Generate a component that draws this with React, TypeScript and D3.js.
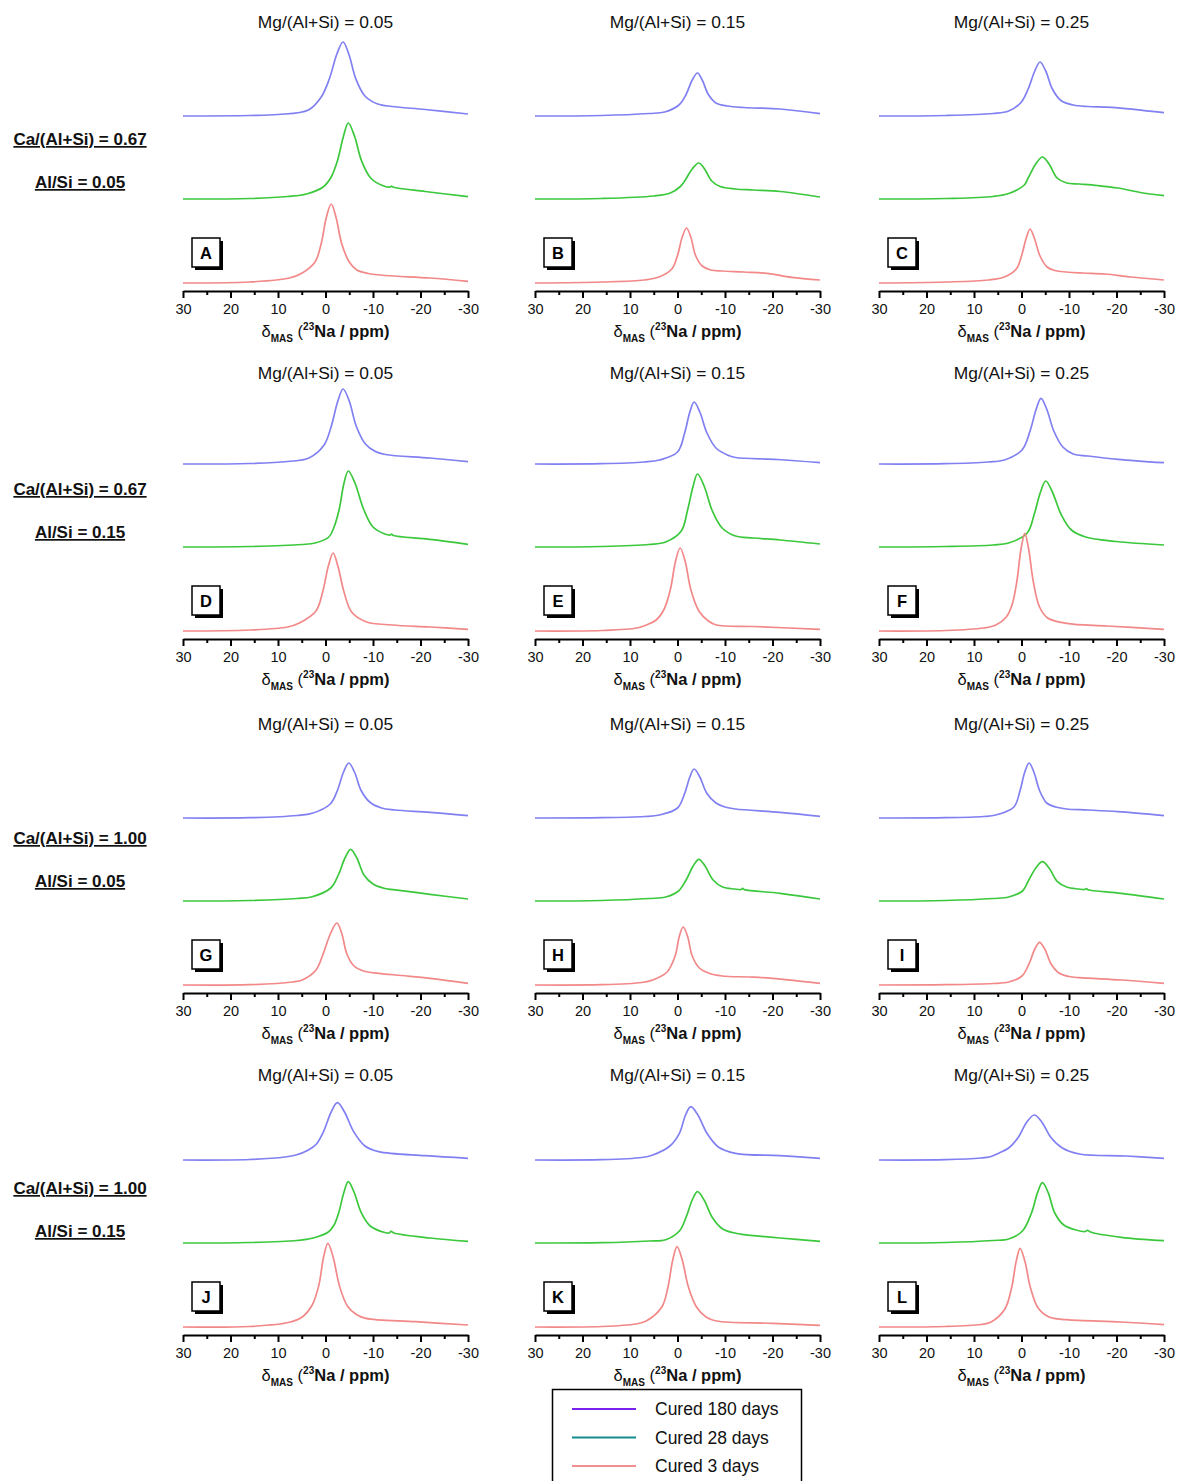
import React, { useEffect, useRef } from "react";
import * as d3 from "d3";

type Pt = [number, number];

// labels
const MG_TITLES = ["Mg/(Al+Si) = 0.05", "Mg/(Al+Si) = 0.15", "Mg/(Al+Si) = 0.25"];
const CA_LABELS = ["Ca/(Al+Si) = 0.67", "Ca/(Al+Si) = 0.67", "Ca/(Al+Si) = 1.00", "Ca/(Al+Si) = 1.00"];
const ALSI_LABELS = ["Al/Si = 0.05", "Al/Si = 0.15", "Al/Si = 0.05", "Al/Si = 0.15"];
const LETTERS = ["A", "B", "C", "D", "E", "F", "G", "H", "I", "J", "K", "L"];
const SERIES = ["Cured 180 days", "Cured 28 days", "Cured 3 days"];
const X_TICKS = [30, 20, 10, 0, -10, -20, -30];
const X_MINOR = [25, 15, 5, -5, -15, -25];

// spectra: [ppm, intensity]
const A_180: Pt[] = [[30,0],[16,0.5],[10,1.5],[3.6,6],[0.9,19],[-0.8,37],[-2.4,62],[-3.7,74],[-4.9,62],[-6.4,37],[-8.3,20],[-11,12],[-14,9.5],[-21,6.5],[-30,2]];
const A_28: Pt[] = [[30,0],[16,0.5],[8,2.5],[4,5],[0.5,12],[-1.2,22],[-2.5,38],[-3.8,63],[-4.8,76],[-6.1,63],[-7.6,38],[-9.5,21],[-12,13.5],[-13.6,12],[-13.9,12.8],[-14.3,11.8],[-21,7.5],[-30,2.3]];
const A_3: Pt[] = [[30,0],[16,1],[7.6,5],[4.9,10],[2.2,21],[0.9,39.5],[-0.2,66],[-1.2,79],[-2.2,66],[-3.4,39.5],[-5,21],[-6.6,13],[-9,9.5],[-12.6,7.5],[-22,5],[-30,1.7]];

const B_180: Pt[] = [[30,0],[16,0.5],[6,2.5],[2.7,4],[-0.3,11],[-1.8,21.5],[-3.1,36],[-4.2,43],[-5.2,36],[-6.5,21.5],[-8.1,13],[-10.5,10],[-14,8.5],[-21.6,7],[-30,2.3]];
const B_28: Pt[] = [[30,0],[16,0.5],[5,3],[1.5,6],[-0.6,12.5],[-1.5,18],[-3.1,30],[-4.5,36],[-5.7,30],[-7.2,18],[-9,12.5],[-12.2,10],[-16,9],[-21.6,7.5],[-30,2]];
const B_3: Pt[] = [[30,0],[16,1],[7,3],[3.9,6],[1.2,14],[0,27.5],[-1,46],[-1.9,55],[-2.8,46],[-3.8,27.5],[-5.2,17],[-7,13],[-9.4,12],[-14,11],[-18.8,9.7],[-24,5.7],[-30,3]];

const C_180: Pt[] = [[30,0],[16,0.5],[6,2.5],[2.7,5],[0.1,13.5],[-1.4,27],[-2.8,45],[-3.9,54],[-5.1,45],[-6.5,27],[-8.3,15.5],[-10.9,11],[-14,9.5],[-19,8.7],[-30,3.3]];
const C_28: Pt[] = [[30,0],[16,0.5],[6,2.5],[2.7,5.5],[-0.6,14],[-1.4,21],[-3,35],[-4.4,42],[-5.8,35],[-7.5,21],[-9.5,16],[-12.2,15],[-16,13.5],[-20.3,11],[-25,6.5],[-30,3.3]];
const C_3: Pt[] = [[30,0],[16,1],[7,3],[3.6,6],[1.1,14],[0,27],[-1,45],[-1.8,54],[-2.7,45],[-3.9,27],[-5.4,16],[-7,12.5],[-9.5,11],[-13,10],[-17.6,9],[-23,6],[-30,3]];

const D_180: Pt[] = [[30,0],[16,0.5],[8,2.5],[3.5,6],[0.3,19],[-1.2,37.5],[-2.6,63],[-3.7,75],[-5,63],[-6.5,37.5],[-8.4,20],[-10.5,12.5],[-12.6,9.5],[-22,6],[-30,2.3]];
const D_28: Pt[] = [[30,0],[16,0.5],[5,2.5],[2.2,4],[-0.7,10],[-1.8,20],[-2.9,38],[-3.9,64],[-4.8,76],[-6.2,64],[-8,38],[-10,20],[-12.5,13],[-13.6,12],[-13.9,12.8],[-14.3,11.5],[-22,7.7],[-30,2.7]];
const D_3: Pt[] = [[30,0],[16,1],[8,4],[5.5,8],[2,20],[0.6,39],[-0.6,65],[-1.6,78],[-2.6,65],[-3.9,39],[-5.5,19],[-8.5,9.3],[-14,6],[-22,4],[-30,1.7]];

const E_180: Pt[] = [[30,0],[16,0.3],[7,2],[3.8,4],[0,12],[-1.5,31],[-2.6,52],[-3.5,62],[-4.7,52],[-6.2,31],[-8.1,16],[-10.5,9],[-12.2,6.5],[-21,4.5],[-30,1.3]];
const E_28: Pt[] = [[30,0],[16,0.5],[6,2.5],[2.5,5],[-0.8,16],[-2.1,36.5],[-3.3,61],[-4.2,73],[-5.6,61],[-7.3,36.5],[-9.4,19],[-12.2,11],[-16,9],[-21.6,7],[-30,3]];
const E_3: Pt[] = [[30,0],[16,0.5],[8.5,3],[6.6,6],[4.5,11],[2.8,22],[1.5,41.5],[0.4,70],[-0.55,83],[-1.6,70],[-2.8,41.5],[-4.5,20],[-6.5,10],[-8.2,6],[-16,4.5],[-30,1.7]];

const F_180: Pt[] = [[30,0],[16,0.3],[7,2],[3.6,4],[-0.1,14],[-1.8,33],[-3.1,55],[-4.1,65.7],[-5.3,55],[-6.8,33],[-8.7,17],[-10.9,10],[-14,8],[-20.3,4.7],[-30,1.3]];
const F_28: Pt[] = [[30,0],[16,0.5],[6,2],[2.7,4],[-1.2,14],[-2.7,33],[-4,55],[-5.1,66],[-6.5,55],[-8.3,33],[-10.5,17],[-13.5,10],[-20,5.5],[-30,2]];
const F_3: Pt[] = [[30,0],[16,0.5],[8,3],[5.4,6],[3.2,14],[2,26],[1,49],[0.1,82],[-0.7,97.7],[-1.5,82],[-2.5,49],[-3.8,24],[-5.5,13],[-9.5,7.7],[-18,5],[-30,1.7]];

const G_180: Pt[] = [[30,0],[16,0.3],[6,2.5],[2.8,4.7],[-1,14],[-2.5,27.5],[-3.8,46],[-4.9,55],[-6.1,46],[-7.5,27.5],[-9.3,16],[-11.8,10],[-14.6,8],[-22,5.7],[-30,2.3]];
const G_28: Pt[] = [[30,0],[16,0.5],[6,2.5],[2.8,4.3],[-1.1,13],[-2.7,26],[-4.1,43],[-5.3,51.7],[-6.6,43],[-8.1,26],[-10,17],[-12.5,12.5],[-13.8,11.7],[-22,6.7],[-30,2]];
const G_3: Pt[] = [[30,0],[16,0.3],[7,3],[4.9,5],[2,15],[0.5,31],[-1.1,52],[-2.4,62],[-3.4,52],[-4.5,31],[-6,19],[-8,14],[-11.2,11.7],[-16,9.5],[-22,6.7],[-30,1.7]];

const H_180: Pt[] = [[30,0],[16,0.3],[7,1.5],[3.8,3],[0,10],[-1.5,24.5],[-2.6,41],[-3.5,49],[-4.7,41],[-6.2,24.5],[-8.1,15],[-10,11],[-12.2,9],[-21.6,5.7],[-30,1.7]];
const H_28: Pt[] = [[30,0],[16,0.5],[6,2.5],[2.5,4],[-0.2,10],[-1.8,21],[-3.3,35],[-4.5,41.7],[-5.8,35],[-7.5,21],[-9.5,14],[-12,12],[-13.4,11.5],[-13.7,12.6],[-14.1,11.4],[-21.6,7.7],[-30,2]];
const H_3: Pt[] = [[30,0],[16,0.3],[7.5,2.5],[5.2,5],[2.2,13],[0.5,29],[-0.4,49],[-1.2,58],[-2.1,49],[-3.1,29],[-4.6,17],[-6.5,12],[-9.4,9],[-15,8],[-20,6.7],[-30,1.7]];

const I_180: Pt[] = [[30,0],[16,0.3],[8,1.5],[5.4,3],[1.6,11],[0.3,27.5],[-0.7,46],[-1.6,55],[-2.6,46],[-3.8,27.5],[-5.3,15],[-7.2,11],[-9.5,9],[-14,8],[-20.3,6.3],[-30,2.3]];
const I_28: Pt[] = [[30,0],[16,0.5],[6,2.5],[2.7,4],[-0.2,10],[-1.4,19.7],[-3,33],[-4.4,39.3],[-5.8,33],[-7.5,19.7],[-9.5,14],[-12,12],[-13.3,11.5],[-13.6,12.4],[-14,11.3],[-21,7.7],[-30,2]];
const I_3: Pt[] = [[30,0],[16,0.3],[6,1.5],[2.7,3],[-0.1,9],[-1.6,21.3],[-2.8,36],[-3.8,42.7],[-4.9,36],[-6.2,21.3],[-7.9,12],[-10,8.5],[-12.2,7.3],[-21,5],[-30,1.7]];

const J_180: Pt[] = [[30,0],[16,0.5],[8.5,3],[6.2,5],[3.6,10],[1.9,16],[0.4,28.6],[-1.2,48],[-2.5,57.3],[-4,48],[-5.9,28.6],[-8.3,14],[-11.2,8.3],[-21,4.3],[-30,1.7]];
const J_28: Pt[] = [[30,0],[16,0.5],[6,2.5],[2.8,4.7],[-0.6,11],[-1.8,18],[-2.8,30.6],[-3.9,51],[-4.8,61.3],[-6,51],[-7.5,30.6],[-9.4,17],[-12.5,10.5],[-13.4,10],[-13.8,11.7],[-14.4,10],[-22,5],[-30,1.7]];
const J_3: Pt[] = [[30,0],[16,0.5],[7.6,4.7],[4.9,10],[2.8,22],[1.4,41.8],[0.4,70],[-0.5,83.7],[-1.6,70],[-2.9,41.8],[-4.6,21],[-6.5,12.5],[-8.5,8.7],[-19,5.3],[-30,2]];

const K_180: Pt[] = [[30,0],[16,0.3],[7.5,2.5],[5.2,5],[1.6,14],[-0.4,26.7],[-1.7,45],[-2.8,53.3],[-4.3,45],[-6.2,26.7],[-8.6,13],[-12.2,6.7],[-21.6,4.3],[-30,1.7]];
const K_28: Pt[] = [[30,0],[16,0.3],[6,2],[2.5,3.3],[-0.4,12],[-1.8,25.7],[-3.1,43],[-4.2,51.3],[-5.6,43],[-7.3,25.7],[-9.5,14],[-12.5,9.5],[-13.6,8.7],[-21.6,5],[-30,1.7]];
const K_3: Pt[] = [[30,0],[16,0.5],[8.8,3],[6.6,6],[3.3,20],[2,40],[1,67],[0.1,80.3],[-1,67],[-2.3,40],[-4,20],[-6,10],[-8.2,6],[-20,3.7],[-30,1.7]];

const L_180: Pt[] = [[30,0],[16,0.3],[8.5,2],[6.6,3.3],[4.7,7],[2.7,12],[0.7,22.5],[-1.1,37.8],[-2.7,45],[-4.3,37.8],[-6.2,22.5],[-8.6,12],[-12.2,6],[-22,4],[-30,1.7]];
const L_28: Pt[] = [[30,0],[16,0.5],[6,2.5],[2.7,4],[-0.2,12],[-2.1,30],[-3.4,50.6],[-4.4,60.3],[-5.6,50.6],[-7,30],[-8.9,18],[-11.5,13],[-13.4,11.5],[-13.9,12.7],[-14.5,11],[-21,5.7],[-30,2.3]];
const L_3: Pt[] = [[30,0],[16,0.5],[8.5,2.5],[6.5,4.7],[3.5,18],[2.1,39],[1.1,66],[0.3,78.7],[-0.7,66],[-1.9,39],[-3.5,19],[-5.8,10],[-9.5,7.3],[-21,5],[-30,2.3]];

const SPECTRA: Pt[][][] = [
  [A_180, A_28, A_3], [B_180, B_28, B_3], [C_180, C_28, C_3],
  [D_180, D_28, D_3], [E_180, E_28, E_3], [F_180, F_28, F_3],
  [G_180, G_28, G_3], [H_180, H_28, H_3], [I_180, I_28, I_3],
  [J_180, J_28, J_3], [K_180, K_28, K_3], [L_180, L_28, L_3],
];

// layout
const W = 1179;
const H = 1481;
const COL_X = [183, 535, 879];
const PW = 285;
const ROW_AXIS = [291, 639, 993, 1335];
const ROW_TITLE = [22, 373, 724, 1075];
const ROW_LABEL = [139, 489, 838, 1188];
const OFFSETS = [175, 92, 8]; // stacking of 180 d / 28 d / 3 d traces
const TRACE_COLORS = ["#8080f2", "#3cc83c", "#f28888"];
const LEGEND_COLORS = ["#7b22ee", "#168c8c", "#f29090"];
const FONT = "'Liberation Sans', Arial, sans-serif";

const App = () => {
  const ref = useRef<SVGSVGElement | null>(null);

  useEffect(() => {
    const svg = d3.select(ref.current);
    svg.selectAll("*").remove();
    svg.append("rect").attr("width", W).attr("height", H).attr("fill", "#fff");

    // row labels on the left
    ROW_AXIS.forEach((_, r) => {
      [CA_LABELS[r], ALSI_LABELS[r]].forEach((t, k) => {
        svg.append("text")
          .attr("x", 80)
          .attr("y", ROW_LABEL[r] + 6 + k * 43)
          .attr("text-anchor", "middle")
          .style("font-family", FONT)
          .style("font-size", "17px")
          .style("font-weight", "bold")
          .style("text-decoration", "underline")
          .attr("fill", "#111")
          .text(t);
      });
    });

    SPECTRA.forEach((panel, i) => {
      const r = Math.floor(i / 3);
      const c = i % 3;
      const x0 = COL_X[c];
      const axisY = ROW_AXIS[r];

      const x = d3.scaleLinear().domain([30, -30]).range([x0, x0 + PW]);
      const y = d3.scaleLinear().domain([0, 270]).range([axisY, axisY - 270]);
      const g = svg.append("g");

      // title
      g.append("text")
        .attr("x", x(0))
        .attr("y", ROW_TITLE[r] + 6)
        .attr("text-anchor", "middle")
        .style("font-family", FONT)
        .style("font-size", "17.4px")
        .attr("fill", "#111")
        .text(MG_TITLES[c]);

      // traces
      panel.forEach((data, s) => {
        const line = d3.line<Pt>()
          .x((d) => x(d[0]))
          .y((d) => y(d[1] + OFFSETS[s]))
          .curve(d3.curveCatmullRom.alpha(0.5));
        g.append("path")
          .datum(data)
          .attr("d", line)
          .attr("fill", "none")
          .attr("stroke", TRACE_COLORS[s])
          .attr("stroke-width", 1.7)
          .attr("stroke-linejoin", "round");
      });

      // letter box
      const bx = x0 + 9;
      const by = axisY - 53;
      g.append("rect").attr("x", bx + 3).attr("y", by + 3).attr("width", 28).attr("height", 29).attr("fill", "#000");
      g.append("rect").attr("x", bx).attr("y", by).attr("width", 28).attr("height", 29)
        .attr("fill", "#fff").attr("stroke", "#000").attr("stroke-width", 1.5);
      g.append("text")
        .attr("x", bx + 14)
        .attr("y", by + 21)
        .attr("text-anchor", "middle")
        .style("font-family", FONT)
        .style("font-size", "16.5px")
        .style("font-weight", "bold")
        .text(LETTERS[i]);

      // axes
      const minor = g.append("g")
        .attr("transform", `translate(0,${axisY})`)
        .call(d3.axisBottom(x).tickValues(X_MINOR).tickSize(4).tickSizeOuter(0).tickFormat(() => ""));
      minor.select(".domain").remove();
      minor.selectAll("line").attr("stroke-width", 2);

      const major = g.append("g")
        .attr("transform", `translate(0,${axisY})`)
        .call(d3.axisBottom(x).tickValues(X_TICKS).tickSize(7).tickPadding(6).tickSizeOuter(0).tickFormat((d) => `${d}`));
      major.select(".domain").attr("stroke-width", 2.2);
      major.selectAll("line").attr("stroke-width", 2);
      major.selectAll("text")
        .style("font-family", FONT)
        .style("font-size", "14.5px")
        .attr("fill", "#111");

      // axis title
      const t = g.append("text")
        .attr("x", x(0))
        .attr("y", axisY + 46)
        .attr("text-anchor", "middle")
        .style("font-family", FONT)
        .style("font-size", "16.5px")
        .attr("fill", "#111");
      t.append("tspan").text("δ");
      t.append("tspan").attr("dy", 5).style("font-size", "10px").style("font-weight", "bold").text("MAS");
      t.append("tspan").attr("dy", -5).text(" (");
      t.append("tspan").attr("dy", -7).style("font-size", "10px").style("font-weight", "bold").text("23");
      t.append("tspan").attr("dy", 7).style("font-weight", "bold").text("Na / ppm)");
    });

    // legend
    const lg = svg.append("g");
    lg.append("rect").attr("x", 552.5).attr("y", 1389.5).attr("width", 249).attr("height", 100)
      .attr("fill", "#fff").attr("stroke", "#000").attr("stroke-width", 1.5);
    SERIES.forEach((name, s) => {
      const ly = 1409 + s * 28.5;
      lg.append("line").attr("x1", 572).attr("x2", 636).attr("y1", ly).attr("y2", ly)
        .attr("stroke", LEGEND_COLORS[s]).attr("stroke-width", 2);
      lg.append("text")
        .attr("x", 655)
        .attr("y", ly + 6)
        .style("font-family", FONT)
        .style("font-size", "17.5px")
        .attr("fill", "#111")
        .text(name);
    });
  }, []);

  return (
    <svg
      ref={ref}
      width={W}
      height={H}
      style={{ position: "absolute", left: 0, top: 0, display: "block" }}
    />
  );
};

export default App;
